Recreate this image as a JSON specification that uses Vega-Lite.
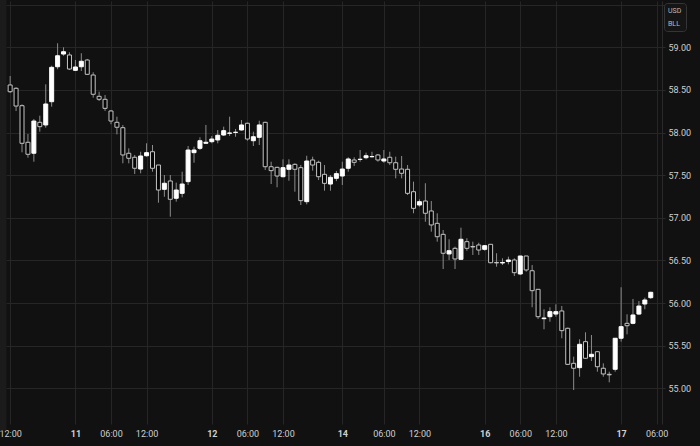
{
  "$schema": "https://vega.github.io/schema/vega-lite/v6.json",
  "width": 656,
  "height": 423,
  "autosize": {"type": "none"},
  "padding": {"left": 6, "top": 1, "right": 38, "bottom": 22},
  "background": "#111111",
  "config": {
    "view": {"fill": "#111111", "stroke": null},
    "font": "Roboto",
    "axis": {"labelFont": "Roboto", "labelColor": "#cfcfcf", "labelFontSize": 9, "gridColor": "#262626", "gridWidth": 1, "title": null}
  },
  "data": {"values": [
    {"k":-11,"o":58.558,"h":58.663,"l":58.464,"c":58.479},
    {"k":-10,"o":58.519,"h":58.531,"l":58.253,"c":58.311},
    {"k":-9,"o":58.315,"h":58.331,"l":57.768,"c":57.874},
    {"k":-8,"o":57.886,"h":57.983,"l":57.705,"c":57.745},
    {"k":-7,"o":57.757,"h":58.159,"l":57.658,"c":58.135},
    {"k":-6,"o":58.120,"h":58.198,"l":58.010,"c":58.069},
    {"k":-5,"o":58.089,"h":58.566,"l":58.057,"c":58.335},
    {"k":-4,"o":58.362,"h":58.784,"l":58.303,"c":58.765},
    {"k":-3,"o":58.772,"h":59.047,"l":58.742,"c":58.901},
    {"k":-2,"o":58.921,"h":59.000,"l":58.901,"c":58.948},
    {"k":-1,"o":58.910,"h":58.941,"l":58.734,"c":58.745},
    {"k":0,"o":58.730,"h":58.851,"l":58.722,"c":58.769},
    {"k":1,"o":58.772,"h":58.930,"l":58.722,"c":58.836},
    {"k":2,"o":58.851,"h":58.863,"l":58.675,"c":58.683},
    {"k":3,"o":58.675,"h":58.707,"l":58.409,"c":58.449},
    {"k":4,"o":58.425,"h":58.479,"l":58.370,"c":58.390},
    {"k":5,"o":58.390,"h":58.440,"l":58.253,"c":58.284},
    {"k":6,"o":58.253,"h":58.264,"l":58.097,"c":58.135},
    {"k":7,"o":58.120,"h":58.186,"l":57.979,"c":58.062},
    {"k":8,"o":58.057,"h":58.089,"l":57.639,"c":57.737},
    {"k":9,"o":57.757,"h":57.815,"l":57.639,"c":57.698},
    {"k":10,"o":57.710,"h":57.737,"l":57.514,"c":57.581},
    {"k":11,"o":57.572,"h":57.775,"l":57.522,"c":57.725},
    {"k":12,"o":57.728,"h":57.874,"l":57.717,"c":57.764},
    {"k":13,"o":57.775,"h":57.854,"l":57.541,"c":57.581},
    {"k":14,"o":57.619,"h":57.619,"l":57.177,"c":57.326},
    {"k":15,"o":57.334,"h":57.502,"l":57.247,"c":57.405},
    {"k":16,"o":57.432,"h":57.502,"l":57.013,"c":57.217},
    {"k":17,"o":57.229,"h":57.412,"l":57.189,"c":57.326},
    {"k":18,"o":57.287,"h":57.541,"l":57.240,"c":57.396},
    {"k":19,"o":57.424,"h":57.842,"l":57.385,"c":57.795},
    {"k":20,"o":57.764,"h":57.834,"l":57.646,"c":57.795},
    {"k":21,"o":57.815,"h":57.944,"l":57.795,"c":57.904},
    {"k":22,"o":57.874,"h":58.089,"l":57.874,"c":57.886},
    {"k":23,"o":57.893,"h":57.960,"l":57.874,"c":57.924},
    {"k":24,"o":57.913,"h":58.030,"l":57.874,"c":57.968},
    {"k":25,"o":57.971,"h":58.069,"l":57.960,"c":58.022},
    {"k":26,"o":57.991,"h":58.186,"l":57.960,"c":57.995},
    {"k":27,"o":58.001,"h":58.042,"l":57.951,"c":58.004},
    {"k":28,"o":58.030,"h":58.147,"l":58.022,"c":58.089},
    {"k":29,"o":58.109,"h":58.116,"l":57.904,"c":57.924},
    {"k":30,"o":57.904,"h":58.010,"l":57.842,"c":57.951},
    {"k":31,"o":57.944,"h":58.139,"l":57.854,"c":58.089},
    {"k":32,"o":58.120,"h":58.127,"l":57.561,"c":57.599},
    {"k":33,"o":57.599,"h":57.658,"l":57.396,"c":57.553},
    {"k":34,"o":57.592,"h":57.599,"l":57.358,"c":57.490},
    {"k":35,"o":57.482,"h":57.686,"l":57.475,"c":57.588},
    {"k":36,"o":57.569,"h":57.686,"l":57.435,"c":57.619},
    {"k":37,"o":57.627,"h":57.639,"l":57.306,"c":57.569},
    {"k":38,"o":57.588,"h":57.619,"l":57.150,"c":57.201},
    {"k":39,"o":57.189,"h":57.728,"l":57.158,"c":57.666},
    {"k":40,"o":57.678,"h":57.717,"l":57.553,"c":57.619},
    {"k":41,"o":57.651,"h":57.670,"l":57.443,"c":57.482},
    {"k":42,"o":57.510,"h":57.619,"l":57.318,"c":57.404},
    {"k":43,"o":57.396,"h":57.502,"l":57.318,"c":57.475},
    {"k":44,"o":57.463,"h":57.550,"l":57.430,"c":57.518},
    {"k":45,"o":57.490,"h":57.658,"l":57.385,"c":57.572},
    {"k":46,"o":57.581,"h":57.710,"l":57.541,"c":57.690},
    {"k":47,"o":57.678,"h":57.710,"l":57.608,"c":57.651},
    {"k":48,"o":57.684,"h":57.795,"l":57.658,"c":57.687},
    {"k":49,"o":57.705,"h":57.764,"l":57.686,"c":57.728},
    {"k":50,"o":57.716,"h":57.775,"l":57.705,"c":57.719},
    {"k":51,"o":57.737,"h":57.748,"l":57.658,"c":57.678},
    {"k":52,"o":57.666,"h":57.795,"l":57.646,"c":57.690},
    {"k":53,"o":57.710,"h":57.775,"l":57.619,"c":57.646},
    {"k":54,"o":57.646,"h":57.717,"l":57.463,"c":57.569},
    {"k":55,"o":57.572,"h":57.725,"l":57.463,"c":57.522},
    {"k":56,"o":57.569,"h":57.619,"l":57.267,"c":57.287},
    {"k":57,"o":57.306,"h":57.424,"l":57.053,"c":57.111},
    {"k":58,"o":57.150,"h":57.217,"l":57.130,"c":57.189},
    {"k":59,"o":57.197,"h":57.405,"l":56.954,"c":57.053},
    {"k":60,"o":57.080,"h":57.197,"l":56.837,"c":56.916},
    {"k":61,"o":56.935,"h":57.053,"l":56.720,"c":56.778},
    {"k":62,"o":56.806,"h":56.857,"l":56.399,"c":56.584},
    {"k":63,"o":56.576,"h":56.748,"l":56.505,"c":56.614},
    {"k":64,"o":56.642,"h":56.661,"l":56.399,"c":56.517},
    {"k":65,"o":56.513,"h":56.884,"l":56.505,"c":56.748},
    {"k":66,"o":56.720,"h":56.760,"l":56.613,"c":56.642},
    {"k":67,"o":56.663,"h":56.720,"l":56.564,"c":56.658},
    {"k":68,"o":56.681,"h":56.708,"l":56.564,"c":56.622},
    {"k":69,"o":56.630,"h":56.681,"l":56.614,"c":56.673},
    {"k":70,"o":56.689,"h":56.689,"l":56.466,"c":56.473},
    {"k":71,"o":56.476,"h":56.584,"l":56.426,"c":56.471},
    {"k":72,"o":56.470,"h":56.525,"l":56.446,"c":56.476},
    {"k":73,"o":56.487,"h":56.544,"l":56.454,"c":56.505},
    {"k":74,"o":56.505,"h":56.525,"l":56.317,"c":56.356},
    {"k":75,"o":56.341,"h":56.552,"l":56.329,"c":56.552},
    {"k":76,"o":56.552,"h":56.552,"l":56.368,"c":56.388},
    {"k":77,"o":56.379,"h":56.446,"l":55.950,"c":56.145},
    {"k":78,"o":56.161,"h":56.161,"l":55.813,"c":55.840},
    {"k":79,"o":55.817,"h":55.927,"l":55.692,"c":55.824},
    {"k":80,"o":55.840,"h":55.950,"l":55.781,"c":55.899},
    {"k":81,"o":55.871,"h":55.985,"l":55.840,"c":55.899},
    {"k":82,"o":55.907,"h":55.965,"l":55.587,"c":55.676},
    {"k":83,"o":55.704,"h":55.711,"l":55.273,"c":55.281},
    {"k":84,"o":55.293,"h":55.371,"l":54.980,"c":55.235},
    {"k":85,"o":55.242,"h":55.575,"l":55.136,"c":55.516},
    {"k":86,"o":55.547,"h":55.657,"l":55.344,"c":55.352},
    {"k":87,"o":55.371,"h":55.625,"l":55.320,"c":55.399},
    {"k":88,"o":55.429,"h":55.438,"l":55.195,"c":55.253},
    {"k":89,"o":55.235,"h":55.293,"l":55.136,"c":55.168},
    {"k":90,"o":55.164,"h":55.195,"l":55.070,"c":55.158},
    {"k":91,"o":55.223,"h":55.587,"l":55.195,"c":55.587},
    {"k":92,"o":55.587,"h":56.185,"l":55.547,"c":55.723},
    {"k":93,"o":55.762,"h":55.868,"l":55.633,"c":55.734},
    {"k":94,"o":55.762,"h":56.048,"l":55.751,"c":55.860},
    {"k":95,"o":55.871,"h":56.024,"l":55.860,"c":55.965},
    {"k":96,"o":55.989,"h":56.063,"l":55.927,"c":56.036},
    {"k":97,"o":56.063,"h":56.133,"l":56.048,"c":56.126}
  ]},
  "resolve": {"axis": {"y": "independent"}},
  "layer": [
    {
      "mark": {"type": "rule", "strokeWidth": 1, "clip": true},
      "encoding": {
        "x": {
          "field": "k", "type": "quantitative",
          "scale": {"domain": [-10.856, 98.05], "nice": false, "zero": false},
          "axis": {
            "orient": "bottom",
            "values": [-11, 0, 6, 12, 23, 29, 35, 45, 52, 58, 69, 75, 81, 92, 98],
            "labelExpr": "['12:00','11','06:00','12:00','12','06:00','12:00','14','06:00','12:00','16','06:00','12:00','17','06:00'][indexof([-11,0,6,12,23,29,35,45,52,58,69,75,81,92,98], datum.value)]",
            "labelFontWeight": {"condition": {"test": "indexof([0,23,45,69,92], datum.value) >= 0", "value": "bold"}, "value": "normal"},
            "domain": false, "ticks": false, "labelPadding": 5, "labelFlush": false, "labelOverlap": false, "grid": true
          }
        },
        "y": {
          "field": "l", "type": "quantitative",
          "scale": {"domain": [54.5812, 59.5431], "nice": false, "zero": false},
          "axis": {
            "orient": "right",
            "values": [55, 55.5, 56, 56.5, 57, 57.5, 58, 58.5, 59, 59.5],
            "labelExpr": "datum.value > 59.4 ? '' : format(datum.value, '.2f')",
            "domain": true, "domainColor": "#2a2a2a", "ticks": true, "tickSize": 3, "tickColor": "#2a2a2a",
            "labelPadding": 3, "labelAlign": "left", "labelBaseline": "middle", "grid": true, "labelOverlap": false, "labelFlush": false
          }
        },
        "y2": {"field": "h"},
        "color": {
          "datum": "BLL", "type": "nominal",
          "scale": {"range": ["#8c8c8c"]},
          "legend": {
            "title": "USD", "orient": "none", "legendX": 658, "legendY": 2,
            "fillColor": "#151515", "strokeColor": "#353535", "cornerRadius": 3, "padding": 4,
            "titleFont": "Roboto", "titleFontSize": 7, "titleFontWeight": "normal", "titleColor": "#bdbdbd", "titlePadding": 6,
            "labelFont": "Roboto", "labelFontSize": 7, "labelColor": "#bdbdbd", "labelOffset": -7,
            "labelExpr": "datum.label + '          '",
            "symbolSize": 0.01, "symbolOpacity": 0, "symbolStrokeWidth": 0
          }
        }
      }
    },
    {
      "mark": {"type": "bar", "size": 4, "strokeWidth": 1, "clip": true},
      "encoding": {
        "x": {"field": "k", "type": "quantitative"},
        "y": {
          "field": "o", "type": "quantitative",
          "axis": {
            "orient": "left", "labels": false, "ticks": false, "grid": false,
            "domain": true, "domainColor": "#1b1b1b", "domainWidth": 12, "domainCap": "square", "offset": 6
          }
        },
        "y2": {"field": "c"},
        "fill": {"condition": {"test": "datum.c >= datum.o", "value": "#ffffff"}, "value": "#050505"},
        "stroke": {"condition": {"test": "datum.c >= datum.o", "value": "#ffffff"}, "value": "#c4c4c4"}
      }
    }
  ]
}
